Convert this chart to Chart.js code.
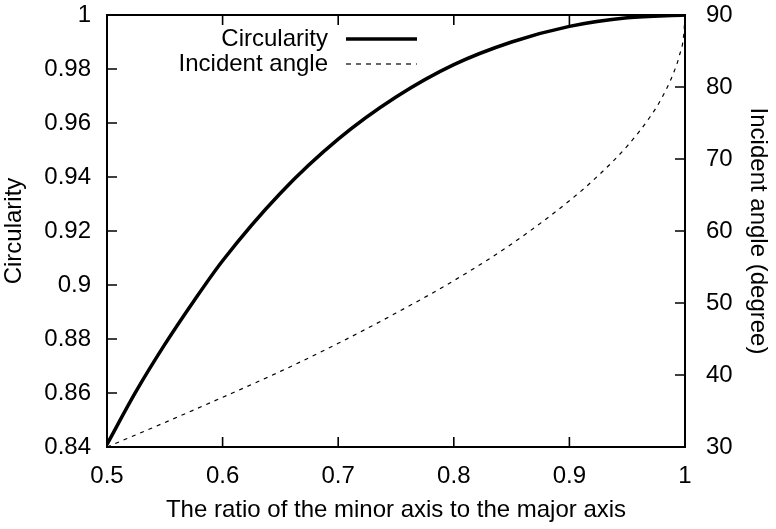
<!DOCTYPE html>
<html lang="en">
<head>
  <meta charset="UTF-8">
  <title>Circularity and incident angle</title>
  <script src="https://cdn.jsdelivr.net/npm/chart.js"></script>
  <style>
    html, body { margin: 0; padding: 0; background: #fff; }
  </style>
</head>
<body>
  <canvas id="chart" width="776" height="529"></canvas>

  <script>
    // values
    const ratio = [0.5, 0.525, 0.55, 0.575, 0.6, 0.65, 0.7, 0.75, 0.8, 0.85, 0.9, 0.95, 1];
    const circularity = [0.841, 0.8605, 0.878, 0.894, 0.909, 0.934, 0.954, 0.9696, 0.9816, 0.990, 0.9958, 0.999, 1];

    const angleRatio = [0.5, 0.55, 0.6, 0.65, 0.7, 0.75, 0.8, 0.85, 0.9, 0.925, 0.95, 0.97, 0.98, 0.99, 0.995, 0.999, 1];
    const incidentAngle = [30, 33.4, 36.9, 40.5, 44.4, 48.6, 53.1, 58.2, 64.2, 67.7, 71.8, 75.9, 78.5, 81.9, 84.3, 87.4, 90];

    const xTicks = [0.5, 0.6, 0.7, 0.8, 0.9, 1];
    const leftTicks = [0.84, 0.86, 0.88, 0.9, 0.92, 0.94, 0.96, 0.98, 1];
    const rightTicks = [30, 40, 50, 60, 70, 80, 90];

    const seriesNames = ['Circularity', 'Incident angle'];

    const FONT = "'Liberation Sans', Arial, Helvetica, sans-serif";
    const font = { family: FONT, size: 24 };

    // keep the plot box where the reference has it, whatever the label sizes
    function noPad(s) {
      s.paddingTop = 0; s.paddingBottom = 0;
      s.paddingLeft = 0; s.paddingRight = 0;
    }

    // box, inward ticks and the legend, gnuplot style
    const framePlugin = {
      id: 'frame',
      afterDatasetsDraw(chart) {
        const ctx = chart.ctx;
        const a = chart.chartArea;
        const sx = chart.scales.x, sy = chart.scales.y, sy2 = chart.scales.y2;
        const len = 10;

        ctx.save();
        ctx.strokeStyle = '#000';
        ctx.lineWidth = 1.6;
        ctx.beginPath();
        xTicks.forEach(v => {
          const px = sx.getPixelForValue(v);
          ctx.moveTo(px, a.bottom); ctx.lineTo(px, a.bottom - len);
          ctx.moveTo(px, a.top); ctx.lineTo(px, a.top + len);
        });
        leftTicks.forEach(v => {
          const py = sy.getPixelForValue(v);
          ctx.moveTo(a.left, py); ctx.lineTo(a.left + len, py);
        });
        rightTicks.forEach(v => {
          const py = sy2.getPixelForValue(v);
          ctx.moveTo(a.right, py); ctx.lineTo(a.right - len, py);
        });
        ctx.stroke();

        ctx.lineWidth = 2;
        ctx.strokeRect(a.left, a.top, a.right - a.left, a.bottom - a.top);

        // legend
        ctx.font = '24px ' + FONT;
        ctx.fillStyle = '#000';
        ctx.textAlign = 'right';
        ctx.textBaseline = 'middle';
        ctx.fillText(seriesNames[0], 328, 39);
        ctx.fillText(seriesNames[1], 328, 64);

        ctx.lineWidth = 3.5;
        ctx.beginPath();
        ctx.moveTo(346, 39); ctx.lineTo(417, 39);
        ctx.stroke();

        ctx.lineWidth = 1.2;
        ctx.setLineDash([5, 5]);
        ctx.beginPath();
        ctx.moveTo(346, 64); ctx.lineTo(417, 64);
        ctx.stroke();
        ctx.restore();
      }
    };

    new Chart(document.getElementById('chart'), {
      type: 'line',
      data: {
        datasets: [{
          label: seriesNames[0],
          data: ratio.map((r, i) => ({ x: r, y: circularity[i] })),
          yAxisID: 'y',
          borderColor: '#000',
          borderWidth: 3.5,
          pointRadius: 0,
          cubicInterpolationMode: 'monotone'
        }, {
          label: seriesNames[1],
          data: angleRatio.map((r, i) => ({ x: r, y: incidentAngle[i] })),
          yAxisID: 'y2',
          borderColor: '#000',
          borderWidth: 1.2,
          borderDash: [4, 5],
          pointRadius: 0,
          cubicInterpolationMode: 'monotone'
        }]
      },
      options: {
        responsive: false,
        animation: false,
        layout: { padding: { top: 15, left: 0, right: 0, bottom: 0 } },
        plugins: {
          legend: { display: false },
          tooltip: { enabled: false }
        },
        scales: {
          x: {
            type: 'linear',
            min: 0.5,
            max: 1,
            afterFit: s => { s.height = 82; noPad(s); },
            afterBuildTicks: s => { s.ticks = xTicks.map(v => ({ value: v })); },
            grid: { display: false, drawTicks: false },
            border: { display: false },
            ticks: {
              color: '#000',
              font: font,
              padding: 15,
              maxRotation: 0,
              callback: v => String(+v.toFixed(1))
            },
            title: {
              display: true,
              text: 'The ratio of the minor axis to the major axis',
              color: '#000',
              font: font,
              padding: { top: 0, bottom: 4 }
            }
          },
          y: {
            position: 'left',
            min: 0.84,
            max: 1,
            afterFit: s => { s.width = 107; noPad(s); },
            afterBuildTicks: s => { s.ticks = leftTicks.map(v => ({ value: v })); },
            grid: { display: false, drawTicks: false },
            border: { display: false },
            ticks: {
              color: '#000',
              font: font,
              padding: 16,
              callback: v => String(+v.toFixed(2))
            },
            title: {
              display: true,
              text: 'Circularity',
              color: '#000',
              font: font,
              padding: { top: 0, bottom: 0 }
            }
          },
          y2: {
            position: 'right',
            min: 30,
            max: 90,
            afterFit: s => { s.width = 91; noPad(s); },
            afterBuildTicks: s => { s.ticks = rightTicks.map(v => ({ value: v })); },
            grid: { display: false, drawTicks: false },
            border: { display: false },
            ticks: {
              color: '#000',
              font: font,
              padding: 21
            },
            title: {
              display: true,
              text: 'Incident angle (degree)',
              color: '#000',
              font: font,
              padding: { top: 4, bottom: 4 }
            }
          }
        }
      },
      plugins: [framePlugin]
    });
  </script>
</body>
</html>
